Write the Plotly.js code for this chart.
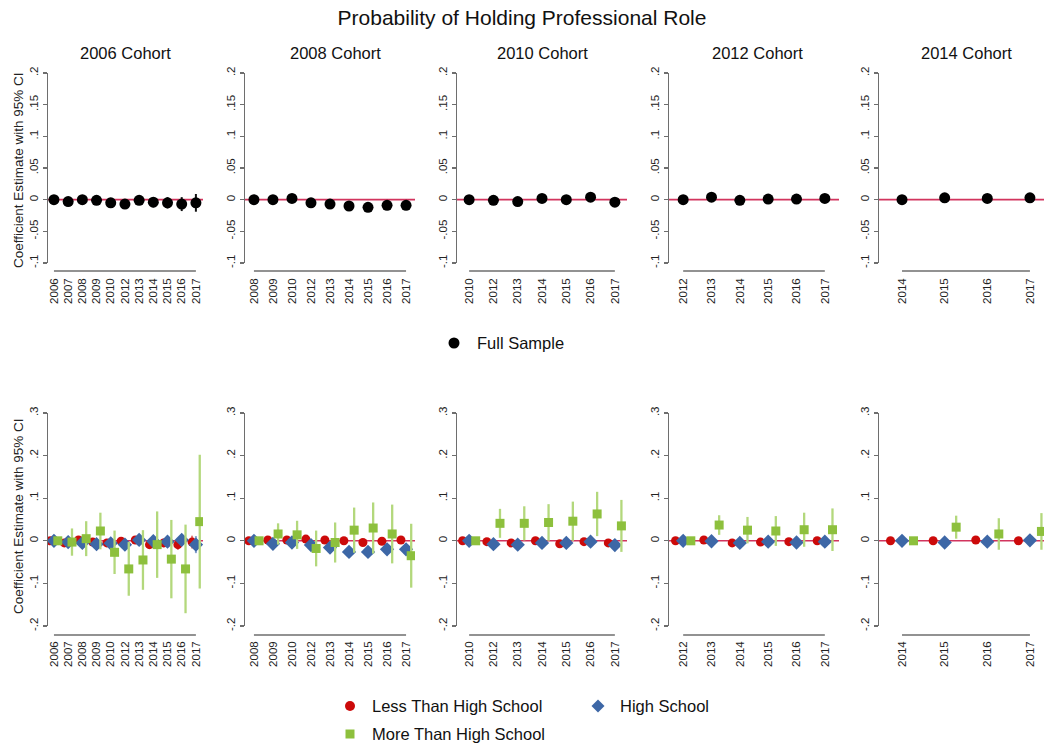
<!DOCTYPE html>
<html>
<head>
<meta charset="utf-8">
<script src="https://cdn.plot.ly/plotly-3.0.1.min.js"></script>
<style>html,body{margin:0;padding:0;background:#fff;}#chart{width:1044px;height:748px;}</style>
</head>
<body>
<div id="chart"></div>
<script>
// ---------------- DATA ----------------
const cohorts = ['2006 Cohort', '2008 Cohort', '2010 Cohort', '2012 Cohort', '2014 Cohort'];

const years2006 = ['2006','2007','2008','2009','2010','2012','2013','2014','2015','2016','2017'];
const years2008 = ['2008','2009','2010','2012','2013','2014','2015','2016','2017'];
const years2010 = ['2010','2012','2013','2014','2015','2016','2017'];
const years2012 = ['2012','2013','2014','2015','2016','2017'];
const years2014 = ['2014','2015','2016','2017'];

// Full sample (top row)
const full2006   = [0, -0.003, 0, -0.001, -0.005, -0.007, -0.001, -0.004, -0.005, -0.007, -0.005];
const fullCI2006 = [0.002, 0.003, 0.003, 0.004, 0.004, 0.005, 0.007, 0.008, 0.009, 0.011, 0.014];
const full2008   = [0, 0, 0.002, -0.005, -0.007, -0.010, -0.012, -0.009, -0.009];
const fullCI2008 = [0.002, 0.003, 0.003, 0.004, 0.004, 0.005, 0.005, 0.006, 0.007];
const full2010   = [0, -0.001, -0.003, 0.002, 0, 0.004, -0.004];
const fullCI2010 = [0.002, 0.003, 0.003, 0.004, 0.004, 0.005, 0.007];
const full2012   = [0, 0.004, -0.001, 0.001, 0.001, 0.002];
const fullCI2012 = [0.002, 0.003, 0.003, 0.004, 0.004, 0.005];
const full2014   = [0, 0.003, 0.002, 0.003];
const fullCI2014 = [0.002, 0.003, 0.003, 0.004];

// Less Than High School (bottom row)
const lths2006   = [0, -0.005, 0.002, -0.003, -0.005, -0.001, 0.002, -0.009, -0.005, -0.009, -0.003];
const lthsCI2006 = [0.002, 0.004, 0.005, 0.006, 0.006, 0.007, 0.008, 0.009, 0.010, 0.012, 0.015];
const lths2008   = [0, 0.002, 0.002, 0.004, 0.002, 0, -0.004, -0.001, 0.002];
const lthsCI2008 = [0.002, 0.003, 0.004, 0.004, 0.005, 0.005, 0.006, 0.006, 0.007];
const lths2010   = [0, -0.002, -0.005, 0, -0.007, -0.002, -0.005];
const lthsCI2010 = [0.002, 0.003, 0.004, 0.004, 0.005, 0.005, 0.006];
const lths2012   = [0, 0.002, -0.005, -0.003, -0.002, 0];
const lthsCI2012 = [0.002, 0.003, 0.004, 0.004, 0.005, 0.005];
const lths2014   = [0, 0, 0.002, 0];
const lthsCI2014 = [0.002, 0.003, 0.004, 0.004];

// High School
const hs2006   = [0, -0.003, -0.005, -0.008, -0.006, -0.009, 0.002, -0.001, -0.002, 0.002, -0.009];
const hsCI2006 = [0.002, 0.004, 0.005, 0.006, 0.007, 0.008, 0.009, 0.010, 0.012, 0.014, 0.020];
const hs2008   = [0, -0.007, -0.004, -0.010, -0.016, -0.026, -0.026, -0.020, -0.020];
const hsCI2008 = [0.002, 0.004, 0.004, 0.005, 0.005, 0.006, 0.006, 0.007, 0.008];
const hs2010   = [0, -0.008, -0.009, -0.005, -0.005, -0.002, -0.010];
const hsCI2010 = [0.002, 0.003, 0.004, 0.004, 0.005, 0.005, 0.006];
const hs2012   = [0, -0.001, -0.005, -0.002, -0.004, -0.002];
const hsCI2012 = [0.002, 0.003, 0.004, 0.004, 0.005, 0.005];
const hs2014   = [0, -0.004, -0.002, 0.001];
const hsCI2014 = [0.002, 0.003, 0.004, 0.004];

// More Than High School
const mths2006   = [0, -0.003, 0.005, 0.023, -0.027, -0.066, -0.045, -0.009, -0.043, -0.066, 0.045];
const mthsCI2006 = [0.003, 0.032, 0.041, 0.043, 0.051, 0.063, 0.070, 0.078, 0.092, 0.104, 0.157];
const mths2008   = [0, 0.016, 0.014, -0.018, -0.004, 0.025, 0.030, 0.016, -0.035];
const mthsCI2008 = [0.003, 0.025, 0.033, 0.042, 0.047, 0.053, 0.060, 0.069, 0.075];
const mths2010   = [0, 0.041, 0.041, 0.043, 0.046, 0.063, 0.035];
const mthsCI2010 = [0.003, 0.034, 0.040, 0.043, 0.046, 0.052, 0.061];
const mths2012   = [0, 0.037, 0.025, 0.023, 0.026, 0.026];
const mthsCI2012 = [0.003, 0.023, 0.031, 0.035, 0.040, 0.050];
const mths2014   = [0, 0.032, 0.016, 0.022];
const mthsCI2014 = [0.003, 0.027, 0.037, 0.043];

const topYTickVals = [-0.1, -0.05, 0, 0.05, 0.1, 0.15, 0.2];
const topYTickText = ['-.1', '-.05', '0', '.05', '.1', '.15', '.2'];
const botYTickVals = [-0.2, -0.1, 0, 0.1, 0.2, 0.3];
const botYTickText = ['-.2', '-.1', '0', '.1', '.2', '.3'];

const seriesNames = ['Full Sample', 'Less Than High School', 'High School', 'More Than High School'];

// ---------------- LAYOUT CONSTANTS ----------------
const W = 1044, H = 748;
const yearsList = [years2006, years2008, years2010, years2012, years2014];
const fullList = [[full2006, fullCI2006], [full2008, fullCI2008], [full2010, fullCI2010], [full2012, fullCI2012], [full2014, fullCI2014]];
const lthsList = [[lths2006, lthsCI2006], [lths2008, lthsCI2008], [lths2010, lthsCI2010], [lths2012, lthsCI2012], [lths2014, lthsCI2014]];
const hsList = [[hs2006, hsCI2006], [hs2008, hsCI2008], [hs2010, hsCI2010], [hs2012, hsCI2012], [hs2014, hsCI2014]];
const mthsList = [[mths2006, mthsCI2006], [mths2008, mthsCI2008], [mths2010, mthsCI2010], [mths2012, mthsCI2012], [mths2014, mthsCI2014]];

const panelPx = [[48, 203], [245, 415], [457, 627], [669, 839], [879, 1044]];
const xRanges = [[-0.42, 10.5], [-0.47, 8.47], [-0.5, 6.5], [-0.5, 5.5], [-0.54, 3.33]];
const titleCenters = [125, 335, 542, 757, 966];
const topDom = [(H - 263) / H, (H - 73) / H];
const botDom = [(H - 626) / H, (H - 413) / H];
const offset = 0.27;

const font = 'Liberation Sans, Arial, sans-serif';
const C_RED = '#cc0a0a', C_BLUE = '#3d67a6', C_GREEN = '#8dc03d';
const C_RED_CI = '#e27878', C_BLUE_CI = '#86a2cc', C_GREEN_CI = '#b3d87c';
const C_ZERO = '#d2345e', C_AXIS = '#6e6e6e';

const traces = [];
const layout = {
  width: W, height: H,
  margin: {l: 0, r: 0, t: 0, b: 0},
  paper_bgcolor: '#fff', plot_bgcolor: '#fff',
  showlegend: false,
  font: {family: font, color: '#111'},
  title: {text: 'Probability of Holding Professional Role', x: 0.5, xanchor: 'center', y: 1 - 18 / H, yanchor: 'middle', font: {size: 21, family: font, color: '#111'}},
  shapes: [], annotations: []
};

function idx(n) { return Array.from({length: n}, (_, i) => i); }

for (let p = 0; p < 5; p++) {
  const yrs = yearsList[p];
  const n = yrs.length;
  const base = idx(n);
  const dom = [panelPx[p][0] / W, panelPx[p][1] / W];
  for (let row = 0; row < 2; row++) {
    const k = row * 5 + p + 1;
    const xn = 'x' + (k === 1 ? '' : k), yn = 'y' + (k === 1 ? '' : k);
    const xa = 'xaxis' + (k === 1 ? '' : k), ya = 'yaxis' + (k === 1 ? '' : k);
    layout[xa] = {
      domain: dom, range: xRanges[p], anchor: yn,
      showgrid: false, zeroline: false, showline: false, ticks: '',
      tickmode: 'array', tickvals: base, ticktext: yrs, tickangle: -90,
      tickfont: {size: 11.5, family: font, color: '#222'}, ticklabelstandoff: 12,
      fixedrange: true
    };
    layout[ya] = {
      domain: row === 0 ? topDom : botDom,
      range: row === 0 ? [-0.1, 0.2] : [-0.2, 0.3], anchor: xn,
      showgrid: false, zeroline: false, showline: true, linecolor: C_AXIS, linewidth: 1.5,
      ticks: 'outside', ticklen: 4, tickwidth: 1.2, tickcolor: C_AXIS,
      tickmode: 'array',
      tickvals: row === 0 ? topYTickVals : botYTickVals,
      ticktext: row === 0 ? topYTickText : botYTickText,
      tickangle: -90, tickfont: {size: 11.5, family: font, color: '#222'},
      fixedrange: true
    };
    // zero reference line
    layout.shapes.push({type: 'line', xref: xn + ' domain', yref: yn, x0: 0, x1: 1, y0: 0, y1: 0,
      line: {color: C_ZERO, width: 1.6}, layer: 'below'});
    // Stata-style baseline under categories
    layout.shapes.push({type: 'line', xref: xn, yref: yn + ' domain', x0: 0, x1: n - 1, y0: -0.042, y1: -0.042,
      line: {color: C_AXIS, width: 1.5}});

    if (row === 0) {
      traces.push({type: 'scatter', mode: 'markers', xaxis: xn, yaxis: yn, name: seriesNames[0],
        x: base, y: fullList[p][0],
        error_y: {type: 'data', array: fullList[p][1], symmetric: true, color: '#111', thickness: 2, width: 0},
        marker: {symbol: 'circle', size: 11, color: '#000'}, cliponaxis: true});
    } else {
      traces.push({type: 'scatter', mode: 'markers', xaxis: xn, yaxis: yn, name: seriesNames[1],
        x: base.map(v => v - offset), y: lthsList[p][0],
        error_y: {type: 'data', array: lthsList[p][1], symmetric: true, color: C_RED_CI, thickness: 2, width: 0},
        marker: {symbol: 'circle', size: 9, color: C_RED}});
      traces.push({type: 'scatter', mode: 'markers', xaxis: xn, yaxis: yn, name: seriesNames[2],
        x: base, y: hsList[p][0],
        error_y: {type: 'data', array: hsList[p][1], symmetric: true, color: C_BLUE_CI, thickness: 2, width: 0},
        marker: {symbol: 'diamond', size: 11, color: C_BLUE}});
      traces.push({type: 'scatter', mode: 'markers', xaxis: xn, yaxis: yn, name: seriesNames[3],
        x: base.map(v => v + offset), y: mthsList[p][0],
        error_y: {type: 'data', array: mthsList[p][1], symmetric: true, color: C_GREEN_CI, thickness: 2.3, width: 0},
        marker: {symbol: 'square', size: 9, color: C_GREEN}});
    }
  }
  // cohort title
  layout.annotations.push({text: cohorts[p], xref: 'paper', yref: 'paper', x: titleCenters[p] / W, y: 1 - 53 / H,
    xanchor: 'center', yanchor: 'middle', showarrow: false, font: {size: 16.5, family: font, color: '#111'}});
}

// y-axis titles
[[170], [516]].forEach(([cy]) => {
  layout.annotations.push({text: 'Coefficient Estimate with 95% CI', xref: 'paper', yref: 'paper',
    x: 18 / W, y: 1 - cy / H, xanchor: 'center', yanchor: 'middle', textangle: -90, showarrow: false,
    font: {size: 13.5, family: font, color: '#222'}});
});

// legends (drawn as shapes + text)
function px(x) { return x / W; }
function py(y) { return 1 - y / H; }
const legendItems = [
  {name: seriesNames[0], mx: 454, my: 343, tx: 475, kind: 'circle', color: '#000', r: 5.5},
  {name: seriesNames[1], mx: 350, my: 706, tx: 370, kind: 'circle', color: C_RED, r: 5},
  {name: seriesNames[2], mx: 598, my: 706, tx: 618, kind: 'diamond', color: C_BLUE, r: 6.5},
  {name: seriesNames[3], mx: 350, my: 734, tx: 370, kind: 'square', color: C_GREEN, r: 4.5}
];
legendItems.forEach(it => {
  const common = {xref: 'paper', yref: 'paper', xsizemode: 'pixel', ysizemode: 'pixel',
    xanchor: px(it.mx), yanchor: py(it.my), fillcolor: it.color, line: {width: 0}};
  if (it.kind === 'circle') {
    layout.shapes.push(Object.assign({type: 'circle', x0: -it.r, x1: it.r, y0: -it.r, y1: it.r}, common));
  } else if (it.kind === 'square') {
    layout.shapes.push(Object.assign({type: 'rect', x0: -it.r, x1: it.r, y0: -it.r, y1: it.r}, common));
  } else {
    const r = it.r;
    layout.shapes.push(Object.assign({type: 'path', path: `M0,${r} L${r},0 L0,${-r} L${-r},0 Z`}, common));
  }
  layout.annotations.push({text: it.name, xref: 'paper', yref: 'paper', x: px(it.tx), y: py(it.my),
    xanchor: 'left', yanchor: 'middle', showarrow: false, font: {size: 16.5, family: font, color: '#111'}});
});

Plotly.newPlot('chart', traces, layout, {displayModeBar: false, staticPlot: true});
</script>
</body>
</html>
